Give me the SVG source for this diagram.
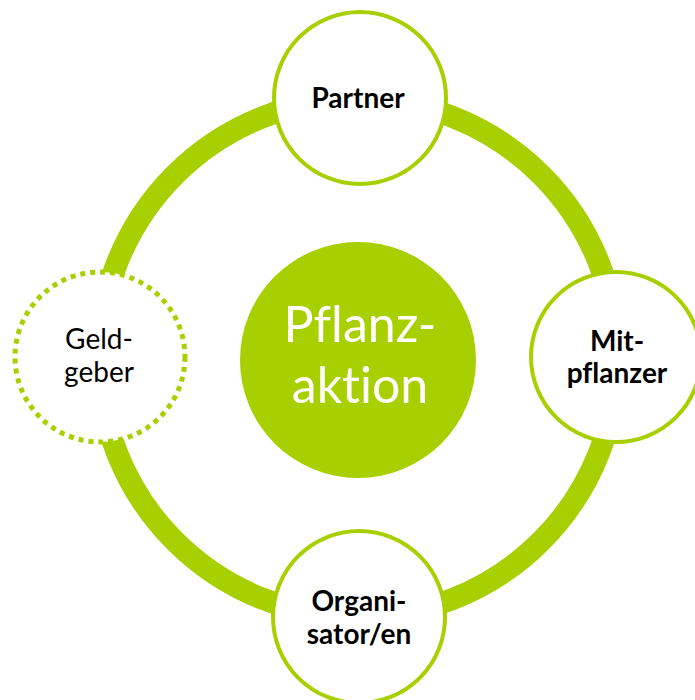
<svg xmlns="http://www.w3.org/2000/svg" width="695" height="700" viewBox="0 0 695 700">
<style>
.node{fill:#ffffff;stroke:#a8d000;stroke-width:4}
.dotted{fill:#ffffff;stroke:#a8d000;stroke-width:5;stroke-dasharray:5 5}
.lbl{font-family:Lato,"Open Sans","Liberation Sans",sans-serif;font-size:28px;fill:#000000;text-anchor:middle;font-variant-ligatures:none}
.b{font-weight:bold}
.center{font-family:Lato,"Open Sans","Liberation Sans",sans-serif;font-size:50px;fill:#ffffff;text-anchor:middle;font-variant-ligatures:none}
</style>
<rect width="695" height="700" fill="#ffffff"/>
<g id="connectors">
<circle cx="358" cy="358" r="259" fill="none" stroke="#a8d000" stroke-width="22"/>
</g>
<g id="center">
<circle cx="358" cy="360" r="118" fill="#a8d000"/>
<text class="center" x="360" y="342">Pflanz-</text>
<text class="center" x="360" y="403">aktion</text>
</g>
<g id="partner">
<circle class="node" cx="360" cy="98" r="86"/>
<text class="lbl b" x="358" y="108">Partner</text>
</g>
<g id="mitpflanzer">
<circle class="node" cx="616" cy="357" r="85"/>
<text class="lbl b" x="617" y="351">Mit-</text>
<text class="lbl b" x="617" y="383">pflanzer</text>
</g>
<g id="organisator">
<circle class="node" cx="359" cy="617" r="86"/>
<text class="lbl b" x="359" y="611">Organi-</text>
<text class="lbl b" x="359" y="644">sator/en</text>
</g>
<g id="geldgeber">
<circle class="dotted" cx="100" cy="357" r="85"/>
<text class="lbl" x="99" y="349">Geld-</text>
<text class="lbl" x="99" y="382">geber</text>
</g>
</svg>
